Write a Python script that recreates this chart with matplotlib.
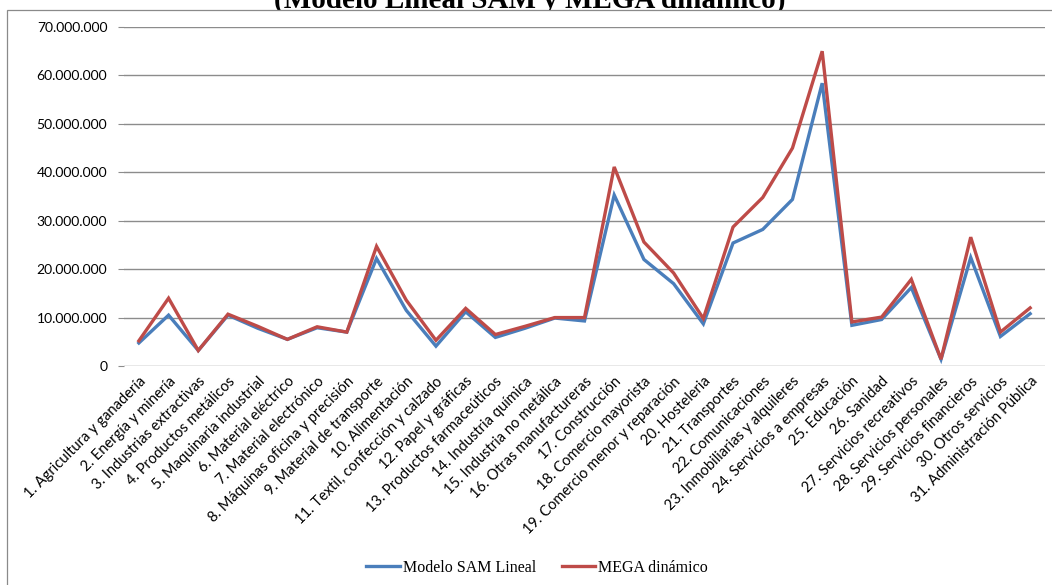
import matplotlib.pyplot as plt
import matplotlib.ticker as mticker
from matplotlib.patches import Rectangle

# sectores (31 ramas)
sectores = [
    '1. Agricultura y ganadería', '2. Energía y minería', '3. Industrias extractivas',
    '4. Productos metálicos', '5. Maquinaria industrial', '6. Material eléctrico',
    '7. Material electrónico', '8. Máquinas oficina y precisión', '9. Material de transporte',
    '10. Alimentación', '11. Textil, confección y calzado', '12. Papel y gráficas',
    '13. Productos farmaceúticos', '14. Industria química', '15. Industria no metálica',
    '16. Otras manufactureras', '17. Construcción', '18. Comercio mayorista',
    '19. Comercio menor y reparación', '20. Hosteleria', '21. Transportes',
    '22. Comunicaciones', '23. Inmobiliarias y alquileres', '24. Servicios a empresas',
    '25. Educación', '26. Sanidad', '27. Servicios recreativos', '28. Servicios personales',
    '29. Servicios financieros', '30. Otros servicios', '31. Administración Pública',
]

sam_lineal = [
    4.75e6, 10.5e6, 3.2e6, 10.5e6, 7.8e6, 5.5e6, 7.9e6, 7.0e6, 22.2e6, 11.5e6,
    4.1e6, 11.2e6, 5.9e6, 7.8e6, 9.9e6, 9.3e6, 35.3e6, 22.0e6, 17.0e6, 8.7e6,
    25.4e6, 28.2e6, 34.4e6, 58.4e6, 8.4e6, 9.6e6, 16.2e6, 1.4e6, 22.4e6, 6.1e6,
    10.8e6,
]
mega_dinamico = [
    5.2e6, 14.0e6, 3.2e6, 10.7e6, 8.2e6, 5.5e6, 8.1e6, 7.0e6, 24.7e6, 13.6e6,
    5.3e6, 11.9e6, 6.5e6, 8.2e6, 10.0e6, 10.0e6, 41.1e6, 25.6e6, 19.2e6, 9.8e6,
    28.7e6, 34.8e6, 45.0e6, 65.0e6, 9.1e6, 10.1e6, 17.9e6, 1.4e6, 26.6e6, 7.0e6,
    12.0e6,
]

W, H = 1052, 585
fig = plt.figure(figsize=(W / 100, H / 100), dpi=100)

# titulo (queda recortado por el area del grafico)
fig.text(530 / W, 1 - 8 / H, '(Modelo Lineal SAM y MEGA dinámico)', ha='center',
         va='baseline', fontsize=21, fontweight='bold', family='Liberation Serif', zorder=3)
fig.patches.append(Rectangle((7 / W, -0.05), 1.1, 1 - 10 / H + 0.05, transform=fig.transFigure,
                             facecolor='white', edgecolor='#8a8a8a', lw=0.9, zorder=3.5))

ax = fig.add_axes([124 / W, 1 - 366 / H, (1045 - 124) / W, (366 - 27) / H])
ax.set_zorder(5)
ax.patch.set_alpha(0)

x = range(len(sectores))
ax.plot(x, sam_lineal, color='#4a7ebb', lw=2.4, solid_joinstyle='miter', label='Modelo SAM Lineal')
ax.plot(x, mega_dinamico, color='#be4b48', lw=2.4, solid_joinstyle='miter', label='MEGA dinámico')

ax.set_xlim(-0.5, len(sectores) - 0.5)
ax.set_ylim(0, 70e6)
ax.set_yticks([i * 10e6 for i in range(8)])
ax.yaxis.set_major_formatter(mticker.FuncFormatter(lambda v, p: f'{int(v):,}'.replace(',', '.')))
ax.grid(axis='y', color='#8c8c8c', lw=1.0)
ax.set_axisbelow(True)
for s in ax.spines.values():
    s.set_visible(False)

ax.tick_params(axis='y', length=4, color='#8c8c8c', pad=8, labelsize=10)
ax.tick_params(axis='x', length=0, pad=6, labelsize=10.5)
ax.set_xticks(list(x))
ax.set_xticklabels(sectores, rotation=45, ha='right', rotation_mode='anchor')
for lab in ax.get_xticklabels() + ax.get_yticklabels():
    lab.set_family('Lato')

leg = fig.legend(loc='center', bbox_to_anchor=(537 / W, 1 - 568 / H), ncol=2, frameon=False,
                 prop={'family': 'Liberation Serif', 'size': 11.5}, handlelength=2.1,
                 columnspacing=1.6, handletextpad=0.2)
leg.set_zorder(6)

fig.savefig('out.png', dpi=100)
